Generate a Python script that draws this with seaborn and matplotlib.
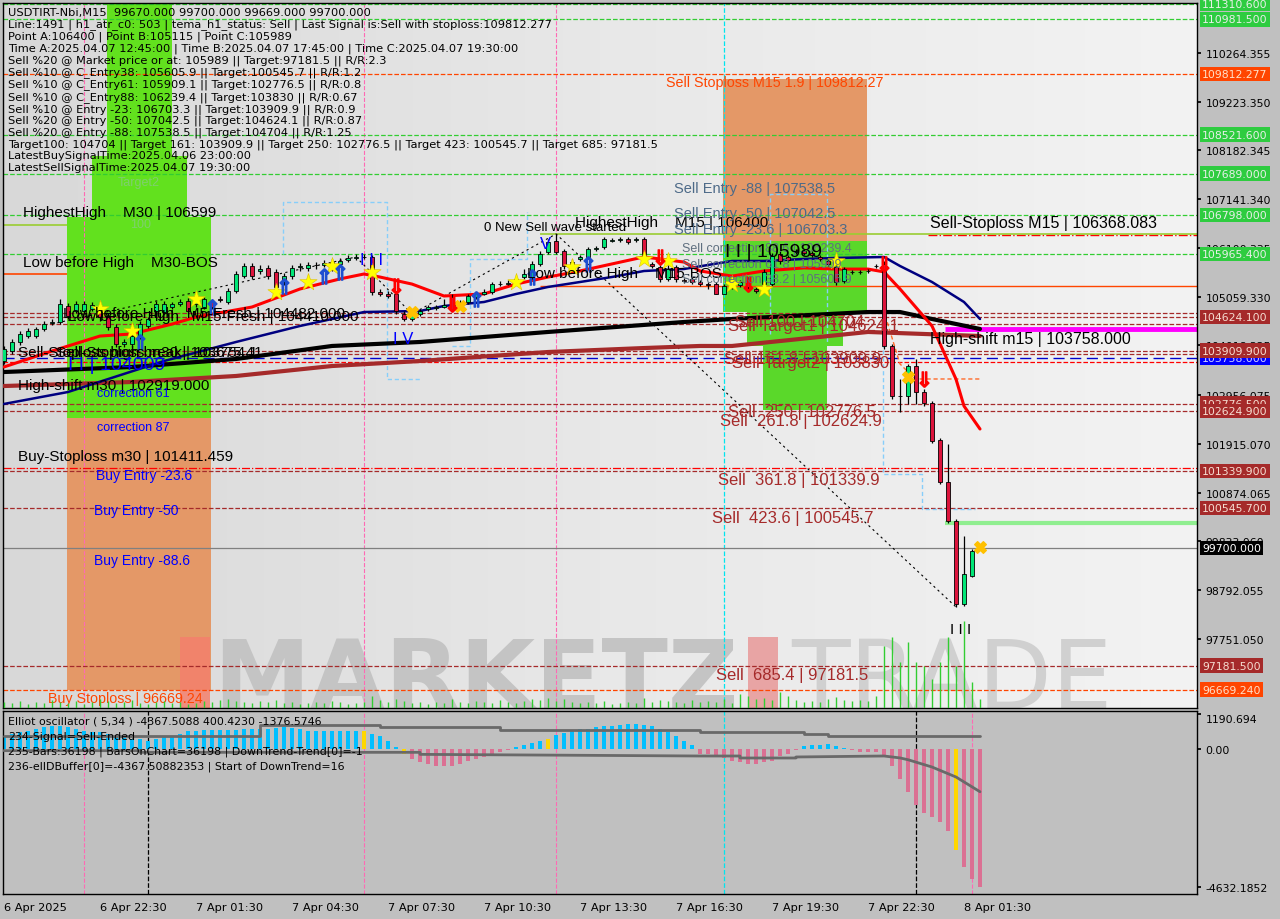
import numpy as np
import matplotlib
matplotlib.use("Agg")
import matplotlib.pyplot as plt
import matplotlib.transforms as mtransforms
from matplotlib.colors import LinearSegmentedColormap
from matplotlib.patches import Rectangle
import seaborn as sns

date_bars = [0, 12, 24, 36, 48, 60, 72, 84, 96, 108, 120]
date_labels = ["6 Apr 2025", "6 Apr 22:30", "7 Apr 01:30", "7 Apr 04:30", "7 Apr 07:30",
               "7 Apr 10:30", "7 Apr 13:30", "7 Apr 16:30", "7 Apr 19:30", "7 Apr 22:30",
               "8 Apr 01:30"]

opens = [103688, 103902, 104094, 104222, 104222, 104372, 104500, 104521, 104863, 104756,
         104756, 104799, 104841, 104649, 104415, 104051, 104051, 104222, 104436, 104756,
         104735, 104841, 104905, 104969, 104905, 104841, 104948, 105012, 104948, 105183,
         105503, 105716, 105609, 105673, 105588, 105375, 105503, 105695, 105673, 105737,
         105737, 105652, 105759, 105844, 105887, 105908, 105908, 105161, 105119, 105119,
         104692, 104585, 104692, 104799, 104820, 104841, 105055, 104863, 104948, 105055,
         105119, 105161, 105332, 105332, 105396, 105481, 105481, 105759, 106015, 106250,
         106036, 105716, 105865, 105908, 106079, 106122, 106250, 106271, 106293, 106271,
         106293, 105759, 105695, 105439, 105695, 105417, 105439, 105375, 105332, 105332,
         105119, 105268, 105311, 105439, 105225, 105332, 105332, 105972, 105908, 106015,
         106036, 105994, 105908, 105823, 105695, 105396, 105588, 105588, 105609, 105716,
         105759, 104009, 102941, 102941, 103581, 103026, 102791, 102000, 101104, 100271,
         98498, 99096, 99670]
closes = [103944, 104094, 104265, 104329, 104372, 104479, 104521, 104905, 104649, 104905,
          104905, 104884, 104628, 104415, 104051, 104094, 104222, 104479, 104585, 104905,
          104905, 104905, 104948, 104756, 105012, 105012, 104841, 104991, 105183, 105545,
          105716, 105503, 105652, 105503, 105268, 105503, 105673, 105716, 105737, 105730,
          105780, 105801, 105823, 105887, 105908, 105900, 105161, 105119, 105076, 104756,
          104585, 104692, 104756, 104841, 104841, 104884, 104799, 104948, 105076, 105119,
          105161, 105332, 105340, 105353, 105439, 105545, 105759, 105972, 106229, 106015,
          105716, 105801, 105908, 106079, 106100, 106293, 106271, 106293, 106229, 106293,
          105908, 105716, 105439, 105652, 105439, 105396, 105375, 105332, 105311, 105119,
          105289, 105311, 105375, 105268, 105183, 105588, 105930, 105823, 105844, 106036,
          105994, 105951, 105865, 105759, 105375, 105652, 105580, 105588, 105609, 105716,
          104009, 102941, 102930, 103581, 103026, 102791, 101979, 101104, 100271, 98498,
          99139, 99630, 99700]
highs = [104009, 104158, 104329, 104393, 104415, 104543, 104585, 105012, 104927, 104969,
         104969, 104948, 104905, 104713, 104479, 104158, 104287, 104543, 104628, 104969,
         104969, 104948, 105012, 105033, 105076, 105055, 105012, 105076, 105247, 105609,
         105780, 105780, 105737, 105737, 105652, 105567, 105737, 105780, 105801, 105801,
         105844, 105865, 105887, 105951, 105972, 105972, 105951, 105225, 105183, 105183,
         104756, 104735, 104799, 104884, 104884, 105012, 105119, 104991, 105119, 105161,
         105225, 105375, 105396, 105417, 105503, 105652, 105823, 106036, 106293, 106400,
         106079, 105865, 105951, 106122, 106143, 106335, 106314, 106335, 106335, 106335,
         106335, 105801, 105737, 105737, 105737, 105460, 105481, 105417, 105375, 105375,
         105332, 105353, 105417, 105481, 105268, 105652, 105989, 106036, 105951, 106079,
         106079, 106036, 105951, 105865, 105737, 105695, 105631, 105631, 105652, 105759,
         105823, 104051, 103303, 103624, 103731, 103090, 102834, 102043, 101915, 100313,
         99950, 99673, 99700]
lows = [103624, 103838, 104030, 104180, 104180, 104329, 104457, 104479, 104585, 104713,
        104692, 104756, 104543, 104351, 103987, 103987, 103987, 104158, 104393, 104692,
        104692, 104799, 104863, 104692, 104841, 104799, 104799, 104948, 104905, 105140,
        105460, 105439, 105545, 105439, 105183, 105311, 105439, 105609, 105609, 105652,
        105695, 105609, 105716, 105801, 105844, 105865, 105097, 105076, 105033, 104692,
        104543, 104543, 104649, 104756, 104777, 104820, 104756, 104820, 104905, 105012,
        105097, 105119, 105289, 105311, 105353, 105439, 105439, 105716, 105972, 105972,
        105652, 105652, 105823, 105865, 106036, 106079, 106229, 106229, 106186, 106229,
        105865, 105673, 105375, 105396, 105375, 105353, 105332, 105289, 105225, 105115,
        105130, 105225, 105268, 105225, 105140, 105289, 105289, 105759, 105801, 105972,
        105951, 105908, 105823, 105716, 105311, 105353, 105545, 105545, 105567, 105673,
        103944, 102877, 102599, 102770, 102770, 102727, 101936, 101061, 100228, 98434,
        98455, 99075, 99669]

volumes = [6, 5, 7, 4, 6, 5, 8, 6, 5, 7,
           4, 6, 9, 7, 5, 6, 8, 5, 4, 6,
           7, 5, 6, 4, 5, 7, 6, 8, 9, 7,
           6, 5, 7, 6, 8, 5, 6, 4, 5, 6,
           5, 7, 6, 4, 5, 6, 12, 8, 6, 9,
           7, 5, 6, 4, 6, 5, 9, 6, 5, 7,
           6, 5, 8, 6, 5, 7, 9, 8, 10, 7,
           9, 6, 5, 6, 5, 7, 4, 5, 6, 5,
           10, 6, 8, 7, 6, 5, 8, 6, 7, 6,
           9, 5, 14, 12, 9, 10, 8, 16, 12, 8,
           6, 7, 6, 9, 11, 8, 7, 8, 7, 12,
           62, 71, 46, 66, 46, 42, 29, 46, 71, 42, 87, 26, 9]

# medias moveis (pontos lidos)
red_ma_bars = [0, 6, 12, 16, 21, 24, 31, 37, 42, 45, 47, 51, 55, 60, 64, 68, 72, 76, 80, 85,
               87, 91, 95, 100, 104, 108, 110, 112, 116, 119, 120, 122]
red_ma = [103560, 103900, 104220, 104265, 104475, 104625, 104840, 105225, 105440, 105545,
          105480, 105330, 105075, 105120, 105330, 105480, 105610, 105760, 105910, 105800,
          105610, 105500, 105610, 105675, 105650, 105650, 105590, 105225, 104435, 103300,
          102725, 102235]
navy_ma_bars = [0, 8, 20, 29, 37, 45, 52, 55, 60, 64, 68, 72, 76, 80, 85, 91, 95, 100, 104,
                110, 112, 116, 120, 122]
navy_ma = [102770, 103025, 103687, 104093, 104435, 104733, 104755, 104862, 104947, 105118,
           105268, 105374, 105481, 105609, 105652, 105823, 105823, 105866, 105887, 105908,
           105716, 105374, 104947, 104584]
black_ma_bars = [0, 16, 29, 41, 52, 68, 85, 91, 108, 112, 116, 122]
black_ma = [103452, 103559, 103730, 104008, 104093, 104307, 104520, 104584, 104733, 104733,
            104584, 104371]
brown_ma_bars = [0, 16, 29, 41, 52, 68, 80, 87, 91, 108, 122]
brown_ma = [103153, 103239, 103367, 103580, 103687, 103879, 103964, 104008, 104008, 104307,
            104221]

# zigzag
zz_bars = [6, 44, 51, 69, 119]
zz_prices = [104478, 105909, 104692, 106400, 98434]

# canais tracejados azul claro e laranja
channels = [
    ([34.9, 34.9, 47.9, 47.9, 52.0], [105972, 107083, 107083, 103303, 103303], "#87cefa"),
    ([56.0, 58.25, 58.25, 65.4, 65.4], [104009, 104009, 105865, 105865, 106869], "#87cefa"),
    ([95.75, 95.75, 102.9, 102.9], [104265, 107254, 107254, 104051], "#87cefa"),
    ([109.9, 109.9, 114.75, 114.75, 121.4], [104372, 101275, 101275, 100537, 100537], "#87cefa"),
    ([109.9, 112.0, 113.9, 122.0], [104799, 103624, 103303, 103303], "#ff6a2a"),
]

# oscilador Elliott
osc = [436, 503, 571, 604, 671, 738, 772, 772, 738, 671,
       604, 571, 571, 503, 436, 403, 336, 336, 268, 336,
       403, 436, 503, 604, 604, 638, 638, 638, 638, 638,
       671, 671, 671, 671, 705, 738, 705, 671, 604, 604,
       604, 604, 604, 604, 604, 604, 503, 436, 268, 67,
       -168, -336, -436, -503, -571, -571, -571, -503, -403, -336,
       -268, -168, -100, -50, 60, 130, 200, 270, 340, 470,
       540, 600, 670, 670, 740, 770, 770, 800, 840, 840,
       800, 770, 670, 570, 440, 270, 130, -168, -168, -235,
       -302, -403, -436, -503, -503, -436, -403, -235, -168, -34,
       100, 134, 134, 168, 100, 34, -34, -100, -100, -100,
       -201, -571, -1007, -1443, -1879, -2148, -2282, -2450, -2752, -3390,
       -3960, -4368, -4632]
osc_yellow = [45, 50, 68, 119]
sig_bars = [0, 32, 32, 47, 47, 62, 62, 87, 87, 100, 100, 103, 103, 122]
sig_vals = [436, 436, 805, 805, 740, 740, 640, 640, 560, 560, 503, 503, 446, 446]
low_bars = [0, 17, 17, 52, 52, 87, 92, 92, 99, 99, 110, 112, 113, 116, 119, 122]
low_vals = [-56, -56, -112, -112, -180, -235, -235, -302, -302, -268, -235, -300, -360, -605,
            -940, -1435]

# sinais
star_bars = [12, 16, 24, 34, 38, 41, 46, 64, 71, 80, 83, 91, 95, 104]
star_prices = [104799, 104329, 105012, 105161, 105375, 105717, 105588, 105375, 105695, 105866,
               105823, 105332, 105226, 105823]
x_bars = [51, 57, 113, 122]
x_prices = [104735, 104863, 103346, 99716]
up_bars = [17, 26, 35, 40, 42, 59, 66, 73]
up_prices = [104094, 104842, 105290, 105503, 105588, 105012, 105482, 105759]
down_bars = [49, 56, 82, 93, 110, 115]
down_prices = [105290, 104906, 105909, 105332, 105759, 103303]

header = ("USDTIRT-Nbi,M15  99670.000 99700.000 99669.000 99700.000\n"
          "Line:1491 | h1_atr_c0: 503 | tema_h1_status: Sell | Last Signal is:Sell with stoploss:109812.277\n"
          "Point A:106400 | Point B:105115 | Point C:105989\n"
          "Time A:2025.04.07 12:45:00 | Time B:2025.04.07 17:45:00 | Time C:2025.04.07 19:30:00\n"
          "Sell %20 @ Market price or at: 105989 || Target:97181.5 || R/R:2.3\n"
          "Sell %10 @ C_Entry38: 105605.9 || Target:100545.7 || R/R:1.2\n"
          "Sell %10 @ C_Entry61: 105909.1 || Target:102776.5 || R/R:0.8\n"
          "Sell %10 @ C_Entry88: 106239.4 || Target:103830 || R/R:0.67\n"
          "Sell %10 @ Entry -23: 106703.3 || Target:103909.9 || R/R:0.9\n"
          "Sell %20 @ Entry -50: 107042.5 || Target:104624.1 || R/R:0.87\n"
          "Sell %20 @ Entry -88: 107538.5 || Target:104704 || R/R:1.25\n"
          "Target100: 104704 || Target 161: 103909.9 || Target 250: 102776.5 || Target 423: 100545.7 || Target 685: 97181.5\n"
          "LatestBuySignalTime:2025.04.06 23:00:00\n"
          "LatestSellSignalTime:2025.04.07 19:30:00")
osc_header = ("Elliot oscillator ( 5,34 ) -4367.5088 400.4230 -1376.5746\n"
              "234-Signal=Sell-Ended\n"
              "235-Bars:36198 | BarsOnChart=36198 | DownTrend-Trend[0]=-1\n"
              "236-ellDBuffer[0]=-4367.50882353 | Start of DownTrend=16")

SLATE = "#4d6a88"
SLATE2 = "#5f6f7f"
BROWN = "#a52a2a"
chart_labels = [
    (2.4, 106869, "HighestHigh    M30 | 106599", "black", 11),
    (2.4, 105801, "Low before High    M30-BOS", "black", 11),
    (7.4, 104712, "Low before High   M5-Fresh | 104482.000", "black", 11),
    (8.0, 104648, "Low before High   M15-Fresh | 104410.000", "black", 11),
    (1.75, 103879, "Sell-Stoploss high break | 103754.1", "black", 11),
    (6.5, 103879, "Sell-Stoploss m30 | 103675.41", "black", 11),
    (8.0, 103602, "I I | 104009", "blue", 14),
    (1.75, 103175, "High-shift m30 | 102919.000", "black", 11),
    (11.6, 103004, "correction 61", "blue", 9),
    (11.6, 102278, "correction 87", "blue", 9),
    (1.75, 101658, "Buy-Stoploss m30 | 101411.459", "black", 11),
    (11.5, 101253, "Buy Entry -23.6", "blue", 10),
    (11.25, 100505, "Buy Entry -50", "blue", 10),
    (11.25, 99438, "Buy Entry -88.6", "blue", 10),
    (5.5, 96492, "Buy Stoploss | 96669.24", "orangered", 10.3),
    (14.25, 107510, "Target2", "#7fcf6f", 9),
    (15.75, 106613, "100", "#7fcf6f", 9),
    (48.6, 104157, "I V", "blue", 12),
    (67.0, 106186, "V", "blue", 12),
    (44.5, 105865, "I I I", "blue", 12),
    (60.0, 106549, "0 New Sell wave started", "black", 9.5),
    (71.4, 106656, "HighestHigh    M15 | 106400", "black", 11),
    (65.4, 105567, "Low before High    M15-BOS", "black", 11),
    (82.75, 109645, "Sell Stoploss M15 1.9 | 109812.27", "orangered", 10.3),
    (83.75, 107382, "Sell Entry -88 | 107538.5", SLATE, 10.5),
    (83.75, 106848, "Sell Entry -50 | 107042.5", SLATE, 10.5),
    (83.75, 106506, "Sell Entry -23.6 | 106703.3", SLATE, 10.5),
    (84.75, 106100, "Sell correction 88.6 | 106239.4", SLATE2, 9),
    (90.1, 106015, "I I | 105989", "black", 14),
    (84.75, 105759, "Sell correction 61.8 | 105909", SLATE2, 9),
    (84.75, 105438, "Sell correction 38.2 | 105605.9", SLATE2, 9),
    (91.4, 104520, "Sell 100 | 104704", BROWN, 12),
    (90.5, 104435, "Sell Target1 | 104624.1", BROWN, 12),
    (90.0, 103730, "Sell 161.8 | 103909.9", BROWN, 12),
    (91.0, 103645, "Sell Target2 | 103830", BROWN, 12),
    (90.5, 102598, "Sell  250 | 102776.5", BROWN, 12),
    (89.5, 102427, "Sell  261.8 | 102624.9", BROWN, 12),
    (89.25, 101146, "Sell  361.8 | 101339.9", BROWN, 12),
    (88.5, 100355, "Sell  423.6 | 100545.7", BROWN, 12),
    (89.0, 96982, "Sell  685.4 | 97181.5", BROWN, 12),
    (115.75, 106634, "Sell-Stoploss M15 | 106368.083", "black", 11.5),
    (115.75, 104161, "High-shift m15 | 103758.000", "black", 11.5),
    (118.3, 97964, "I I I", "black", 11),
]

# zonas (barra inicial, barra final, preco baixo, preco alto, cor)
zones = [
    (12.9, 21.0, 108065, 111400, "#62e11e"),
    (11.0, 22.9, 106760, 108065, "#62e11e"),
    (7.9, 25.9, 102470, 106760, "#62e11e"),
    (7.9, 25.9, 96669, 102470, "#e49867"),
    (89.9, 107.9, 106250, 109700, "#e49867"),
    (89.9, 107.9, 104733, 106250, "#5ad82a"),
    (92.9, 104.9, 104008, 104733, "#5ad82a"),
    (94.9, 102.9, 102641, 104008, "#5ad82a"),
]

# linhas horizontais (preco, cor, estilo, espessura, barra inicial)
levels = [
    (111310.6, "#32cd32", "--", 0.9, None), (110981.5, "#32cd32", "--", 0.9, None),
    (108521.6, "#32cd32", "--", 0.9, None), (107689.0, "#32cd32", "--", 0.9, None),
    (106798.0, "#32cd32", "--", 0.9, None), (105965.4, "#32cd32", "--", 0.9, None),
    (109812.277, "orangered", "--", 0.9, None), (96669.24, "orangered", "--", 0.9, None),
    (104704, BROWN, "--", 0.9, None), (104624.1, BROWN, "--", 0.9, None),
    (104482, BROWN, "--", 0.9, None), (103909.9, BROWN, "--", 0.9, None),
    (103830, BROWN, "--", 0.9, None), (102776.5, BROWN, "--", 0.9, None),
    (102624.9, BROWN, "--", 0.9, None), (101339.9, BROWN, "--", 0.9, None),
    (100545.7, BROWN, "--", 0.9, None), (97181.5, BROWN, "--", 0.9, None),
    (103675.41, "red", "--", 0.9, None), (101411.459, "red", "-.", 0.9, None),
    (103758.0, "#0000cd", (0, (8, 4)), 1.0, None),
    (99700.0, "#808080", "-", 0.9, None),
    (106368.083, "red", "-.", 1.0, 115.5),
    (106400, "yellowgreen", "-", 1.2, 67),
    (105289, "orangered", "-", 1.0, 67),
    (104372, "magenta", "-", 3.5, 117.6),
    (100228, "#90ee90", "-", 3.0, 117.6),
]
left_levels = [(106599, "yellowgreen"), (105545, "orangered")]

tick_prices = [110264.355, 109223.350, 108182.345, 107141.340, 106100.335, 105059.330,
               104018.325, 102956.075, 101915.070, 100874.065, 99833.060, 98792.055, 97751.050]
box_labels = [
    (111310.6, "111310.600", "#2ecc40", "#e8f0e8"), (110981.5, "110981.500", "#2ecc40", "#e8f0e8"),
    (109812.277, "109812.277", "#ff4500", "#ffe0c8"), (108521.6, "108521.600", "#2ecc40", "#e8f0e8"),
    (107689.0, "107689.000", "#2ecc40", "#e8f0e8"), (106798.0, "106798.000", "#2ecc40", "#e8f0e8"),
    (105965.4, "105965.400", "#2ecc40", "#e8f0e8"), (104624.1, "104624.100", "#a52a2a", "#f5dcd0"),
    (103758.0, "103758.000", "#0000ff", "#d0d0ff"), (103909.9, "103909.900", "#a52a2a", "#f5dcd0"),
    (102776.5, "102776.500", "#a52a2a", "#f5dcd0"), (102624.9, "102624.900", "#a52a2a", "#f5dcd0"),
    (101339.9, "101339.900", "#a52a2a", "#f5dcd0"), (100545.7, "100545.700", "#a52a2a", "#f5dcd0"),
    (99700.0, "99700.000", "black", "white"), (97181.5, "97181.500", "#a52a2a", "#f5dcd0"),
    (96669.24, "96669.240", "#ff4500", "#ffe0c8"),
]
osc_ticks = [1190.694, 0.0, -4632.1852]
osc_tick_labels = ["1190.694", "0.00", "-4632.1852"]

# ---------------- figura ----------------
sns.set_theme(style="white")
plt.rcParams["font.family"] = ["DejaVu Sans"]
LAB = ["Liberation Sans", "DejaVu Sans"]

fig = plt.figure(figsize=(12.8, 9.2), dpi=100, facecolor="#c0c0c0")
ax = fig.add_axes([3 / 1280, 1 - 709 / 920, 1194 / 1280, 705 / 920])
ax_osc = fig.add_axes([3 / 1280, 1 - 895 / 920, 1194 / 1280, 183 / 920], sharex=ax)
XL, XR = -0.125, 149.125
idx = np.arange(len(opens))
o = np.array(opens, float)
c = np.array(closes, float)

# fundo com gradiente
grad = LinearSegmentedColormap.from_list("bg", ["#d8d8d8", "#e8e8e8", "#f3f3f3"])
ax.imshow(np.linspace(0, 1, 256).reshape(1, -1), cmap=grad, extent=(0, 1, 0, 1),
          transform=ax.transAxes, aspect="auto", zorder=0)

for x0, x1, p0, p1, col in zones:
    ax.fill_between([x0, x1], p0, p1, color=col, lw=0, zorder=1)

# marca d'agua
ax.add_patch(Rectangle((0.148, 0), 0.025, 0.101, transform=ax.transAxes, color="#f4806c",
                       alpha=0.85, lw=0, zorder=1.4))
ax.add_patch(Rectangle((0.624, 0), 0.025, 0.101, transform=ax.transAxes, color="#e8a4a4",
                       lw=0, zorder=1.4))
ax.text(0.176, 0.0, "MARKETZ", transform=ax.transAxes, fontsize=70, fontweight="bold",
        color="#c4c4c4", ha="left", va="baseline", zorder=1.5, clip_on=True)
ax.text(0.66, 0.0, "TRADE", transform=ax.transAxes, fontsize=69, color="#d0d0d0",
        ha="left", va="baseline", zorder=1.5, clip_on=True)

# linhas verticais
for b in [10, 45, 69]:
    ax.axvline(b, color="#ff69b4", ls="--", lw=0.8, zorder=1.6)
ax.axvline(90, color="#00e5ee", ls="--", lw=0.9, zorder=1.6)

for p, col, ls, lw, start in levels:
    ax.hlines(p, XL if start is None else start, XR, colors=col, linestyles=ls, lw=lw, zorder=2)
for p, col in left_levels:
    ax.hlines(p, XL, 7.9, colors=col, lw=1.2, zorder=2)

for cx, cy, col in channels:
    ax.plot(cx, cy, color=col, lw=1, ls=(0, (3, 2)), zorder=2.1)

# zigzag
ax.plot(zz_bars, zz_prices, color="black", lw=0.8, ls=(0, (2, 3)), zorder=2.2)

# medias
sns.lineplot(x=brown_ma_bars, y=brown_ma, ax=ax, color="#a52a2a", lw=3, estimator=None, sort=False, zorder=3)
sns.lineplot(x=black_ma_bars, y=black_ma, ax=ax, color="black", lw=3, estimator=None, sort=False, zorder=3)
sns.lineplot(x=navy_ma_bars, y=navy_ma, ax=ax, color="#000080", lw=1.8, estimator=None, sort=False, zorder=3)
sns.lineplot(x=red_ma_bars, y=red_ma, ax=ax, color="red", lw=2.2, estimator=None, sort=False, zorder=3)

# velas
bull = c >= o
ax.vlines(idx, lows, highs, color="black", lw=0.9, zorder=4)
ax.bar(idx, np.abs(c - o), bottom=np.minimum(o, c), width=0.62,
       color=np.where(bull, "#00e676", "#dc143c"), edgecolor="black", linewidth=0.6, zorder=5)

# sinais
ax.scatter(star_bars, star_prices, marker="*", s=170, color="#ffff00", edgecolor="#e0c000",
           linewidth=0.4, zorder=6)
ax.scatter(x_bars, x_prices, marker="X", s=70, color="#ffc000", zorder=6)
ax.scatter(up_bars, up_prices, marker=r"$\Uparrow$", s=120, color="#1e4fd0", zorder=6)
ax.scatter(down_bars, down_prices, marker=r"$\Downarrow$", s=120, color="red", zorder=6)

for bx, by, txt, col, fs in chart_labels:
    ax.text(bx, by, txt, color=col, fontsize=fs, family=LAB, ha="left", va="center",
            zorder=7, clip_on=True)

ax.text(5 / 1194, 1 - 4 / 705, header, transform=ax.transAxes, fontsize=8.2, color="black",
        ha="left", va="top", linespacing=1.17, zorder=9)

# volume
ax_vol = fig.add_axes([3 / 1280, 1 - 709 / 920, 1194 / 1280, 100 / 920], sharex=ax)
ax_vol.patch.set_alpha(0)
ax_vol.vlines(idx, 0, volumes, color="#32cd32", lw=1)
ax_vol.set_ylim(0, 100)
ax_vol.axis("off")

ax.set_xlim(XL, XR)
ax.set_ylim(96277, 111332)
ax.yaxis.tick_right()
ax.set_yticks(tick_prices)
ax.set_yticklabels([f"{v:.3f}" for v in tick_prices])
ax.tick_params(axis="y", direction="out", length=3, pad=3, labelsize=7.8, colors="black")
ax.tick_params(axis="x", bottom=False, labelbottom=False)
for s in ax.spines.values():
    s.set_color("black")
    s.set_linewidth(1)

trans = mtransforms.blended_transform_factory(ax.transAxes, ax.transData)
for p, txt, fc, tc in box_labels:
    ax.text(1.0 + 5 / 1194, p, txt, transform=trans, fontsize=7.8, color=tc, ha="left",
            va="center", clip_on=False, zorder=30,
            bbox=dict(boxstyle="square,pad=0.2", fc=fc, ec="none"))

# ---------------- oscilador ----------------
ax_osc.set_facecolor("#c0c0c0")
ov = np.array(osc, float)
ocol = np.where(ov >= 0, "#00bfff", "#db7093").astype(object)
for b in osc_yellow:
    ocol[b] = "#ffd700"
ax_osc.bar(idx, ov, width=0.45, color=list(ocol), lw=0, zorder=2)
sns.lineplot(x=sig_bars, y=sig_vals, ax=ax_osc, color="#696969", lw=2, estimator=None, sort=False, zorder=3)
sns.lineplot(x=low_bars, y=low_vals, ax=ax_osc, color="#696969", lw=2, estimator=None, sort=False, zorder=3)
for b in [10, 45, 69, 121]:
    ax_osc.axvline(b, color="#ff69b4", ls="--", lw=0.8, zorder=1)
ax_osc.axvline(90, color="#00e5ee", ls="--", lw=0.9, zorder=1)
for b in [18, 114]:
    ax_osc.axvline(b, color="black", ls="--", lw=0.9, zorder=1)
ax_osc.text(5 / 1194, 1 - 5 / 183, osc_header, transform=ax_osc.transAxes, fontsize=7.9,
            color="black", ha="left", va="top", linespacing=1.6, zorder=9)

ax_osc.set_ylim(-4866, 1275)
ax_osc.yaxis.tick_right()
ax_osc.set_yticks(osc_ticks)
ax_osc.set_yticklabels(osc_tick_labels)
for lbl in ax_osc.get_yticklabels():
    if lbl.get_text() == "1190.694":
        lbl.set_va("top")
ax_osc.tick_params(axis="y", direction="out", length=3, pad=3, labelsize=7.8, colors="black")
ax_osc.set_xticks(date_bars)
ax_osc.set_xticklabels(date_labels, ha="left")
ax_osc.tick_params(axis="x", direction="out", length=3, pad=3, labelsize=8.2, colors="black")
ax_osc.set_xlim(XL, XR)
ax_osc.set_xlabel("")
ax_osc.set_ylabel("")
ax.set_xlabel("")
ax.set_ylabel("")
for s in ax_osc.spines.values():
    s.set_color("black")
    s.set_linewidth(1)

plt.savefig("out.png", dpi=100, facecolor=fig.get_facecolor())
